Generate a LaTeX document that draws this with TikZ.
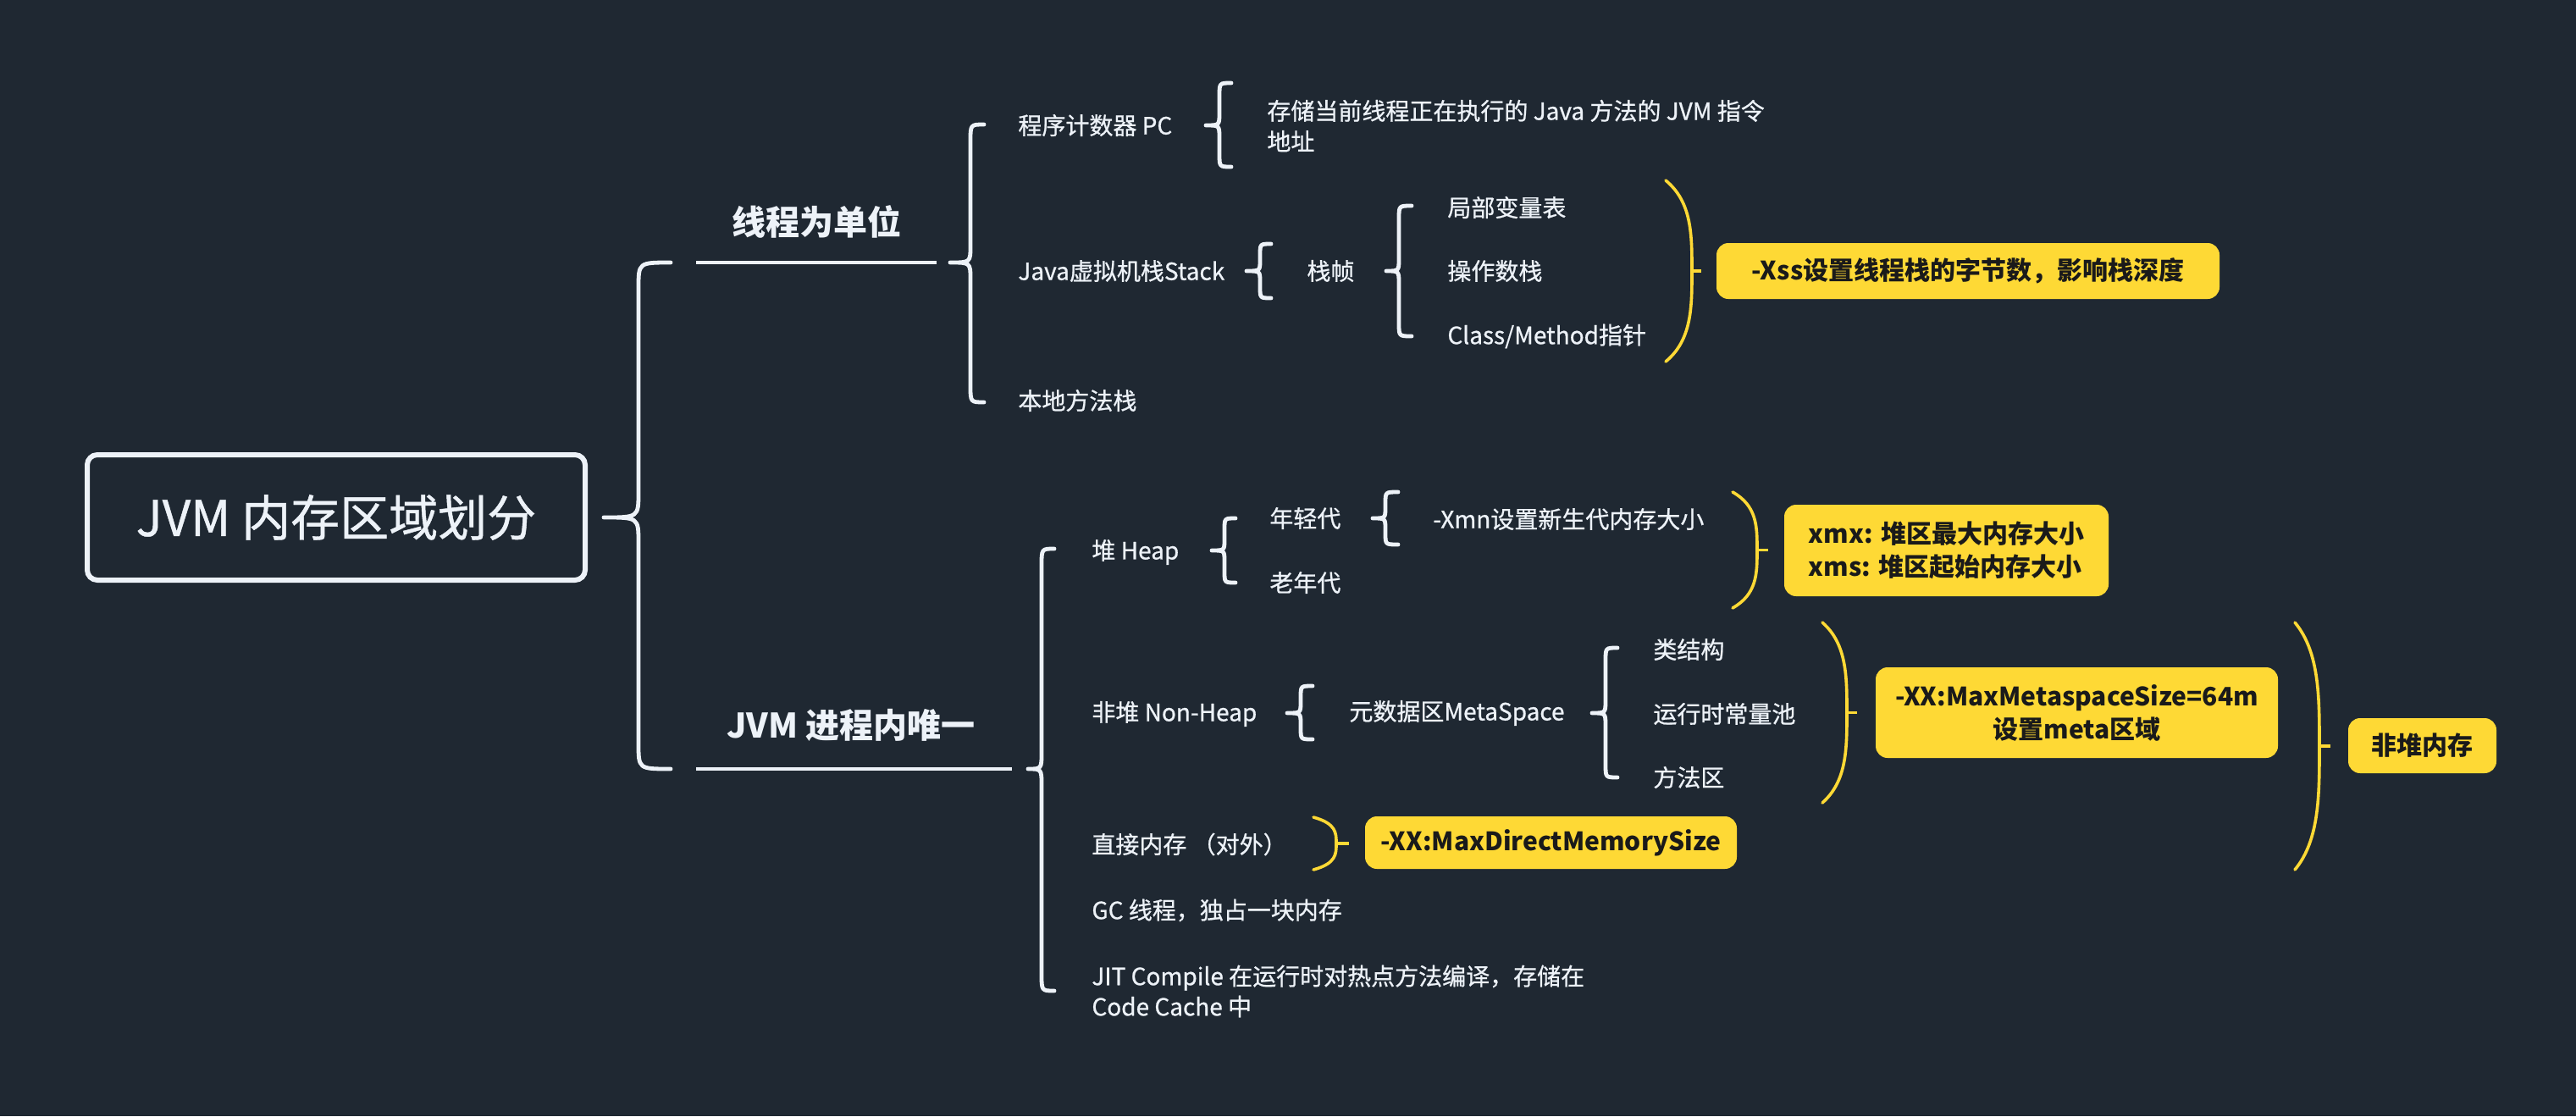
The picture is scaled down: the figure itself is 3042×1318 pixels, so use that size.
\documentclass[tikz,border=0pt]{standalone}
\usepackage{fontspec}
\setmainfont{Noto Sans CJK SC}
\newfontfamily\medfont{Noto Sans CJK SC}[UprightFeatures={FakeBold=0.8}]
\definecolor{bg}{HTML}{1F2832}
\definecolor{txt}{HTML}{EDF2F8}
\definecolor{yel}{HTML}{FED935}
\definecolor{ink}{HTML}{1A1A1A}
\newcommand\mybrace[8]{% name tipx tipy vx ex top bot r
  \coordinate (#1) at (#2,#3);
  \draw[brline] (#1) .. controls (#4,#3) and (#4,#3) .. (#4,{#3-#8}) -- (#4,{#6+#8}) .. controls (#4,#6) and (#4,#6) .. (#5,#6)
                (#1) .. controls (#4,#3) and (#4,#3) .. (#4,{#3+#8}) -- (#4,{#7-#8}) .. controls (#4,#7) and (#4,#7) .. (#5,#7);}
\newcommand\myparen[6]{% name x0 x1 top bot tipx
  \coordinate (#1) at (#6,{(#4+#5)/2});
  \draw[ylline] (#2,#4) .. controls (#3,{#4+0.12*(#5-#4)}) and (#3,{#4+0.3*(#5-#4)}) .. (#3,{(#4+#5)/2})
                .. controls (#3,{#5-0.3*(#5-#4)}) and (#3,{#5-0.12*(#5-#4)}) .. (#2,#5);
  \draw[ylline, line cap=butt] (#3,{(#4+#5)/2}) -- (#1);}
\begin{document}
\begin{tikzpicture}[x=0.5pt,y=-0.5pt,
  brline/.style={draw=txt, line width=2.4pt, line cap=round},
  ylline/.style={draw=yel, line width=1.8pt, line cap=round},
  uline/.style={draw=txt, line width=2.4pt},
  wt/.style={text=txt, font=\medfont\fontsize{14}{18}\selectfont, anchor=west, inner sep=0pt, align=left},
  lvl/.style={text=txt, font=\bfseries\fontsize{20}{24}\selectfont, inner sep=0pt},
  ybox/.style={fill=yel, rounded corners=7pt, text=ink, font=\bfseries\fontsize{15}{19.5}\selectfont, align=center, inner sep=0pt}]
\fill[bg] (0,0) rectangle (3042,1318);
\useasboundingbox (0,0) rectangle (3042,1318);

% root
\node[draw=txt, line width=3pt, rounded corners=6pt, minimum width=294pt, minimum height=74pt, text=txt,
      font=\medfont\fontsize{29}{34}\selectfont] (root) at (397,611) {JVM 内存区域划分};
\mybrace{b0}{713}{611}{754}{792}{310}{908}{30}

% level 1
\node[lvl] (l1a) at (964,262) {线程为单位};
\coordinate (l1as) at (822,310); \coordinate (l1ae) at (1106,310);
\draw[uline] (l1as) -- (l1ae);
\node[lvl] (l1b) at (1005,856) {JVM 进程内唯一};
\coordinate (l1bs) at (822,908); \coordinate (l1be) at (1195,908);
\draw[uline] (l1bs) -- (l1be);

% thread branch
\mybrace{b1}{1122}{310}{1146}{1162}{147}{475}{20}
\node[wt] (pc) at (1202,148) {程序计数器 PC};
\node[wt] (jvs) at (1202,320) {Java虚拟机栈Stack};
\node[wt] (nms) at (1202,473) {本地方法栈};
\mybrace{b2}{1424}{148}{1440}{1454}{98}{197}{15}
\node[wt] (pcd) at (1496,148.5) {存储当前线程正在执行的 Java 方法的 JVM 指令\\地址};
\mybrace{b3}{1472}{320}{1488}{1501}{288}{352}{13}
\node[wt] (frame) at (1543,320) {栈帧};
\mybrace{b4}{1637}{320}{1652}{1667}{243}{397}{15}
\node[wt] (lvt) at (1709,245) {局部变量表};
\node[wt] (ops) at (1709,320) {操作数栈};
\node[wt] (cmp) at (1709,397) {Class/Method指针};
\myparen{p1}{1967}{1998}{213}{427}{2009}
\node[ybox, minimum width=297pt, minimum height=33pt] (xss) at (2324,320) {-Xss设置线程栈的字节数，影响栈深度};

% process branch
\mybrace{b5}{1214}{908}{1230}{1245}{648}{1170}{20}
\node[wt] (heap) at (1289,652) {堆 Heap};
\node[wt] (nonheap) at (1289,843) {非堆 Non-Heap};
\node[wt] (direct) at (1289,997) {直接内存 （对外）};
\node[wt] (gc) at (1289,1075) {GC 线程，独占一块内存};
\node[wt] (jit) at (1289,1170.5) {JIT Compile 在运行时对热点方法编译，存储在\\Code Cache 中};

\mybrace{b6}{1431}{650}{1446}{1459}{612}{688}{13}
\node[wt] (young) at (1499,612) {年轻代};
\node[wt] (old) at (1499,688) {老年代};
\mybrace{b7}{1621}{612}{1636}{1651}{581}{643}{13}
\node[wt] (xmn) at (1692,613) {-Xmn设置新生代内存大小};
\myparen{p2}{2046}{2075}{581}{718}{2088}
\node[ybox, align=left, minimum width=191.5pt, minimum height=54pt] (xmx) at (2298.5,650) {xmx: 堆区最大内存大小\\xms: 堆区起始内存大小};

\mybrace{b8}{1520}{842}{1536}{1550}{810}{873}{13}
\node[wt] (meta) at (1593,842) {元数据区MetaSpace};
\mybrace{b9}{1880}{842}{1896}{1910}{765}{918}{15}
\node[wt] (cls) at (1952,767) {类结构};
\node[wt] (rcp) at (1952,843) {运行时常量池};
\node[wt] (mth) at (1952,918) {方法区};
\myparen{p3}{2152}{2181}{735}{948}{2193}
\node[ybox, minimum width=237.5pt, minimum height=53.5pt] (mms) at (2452.5,841.5) {-XX:MaxMetaspaceSize=64m\\设置meta区域};
\myparen{p4}{2710}{2739}{735}{1027}{2752}
\node[ybox, minimum width=87.5pt, minimum height=32.5pt] (nhm) at (2860.5,880.5) {非堆内存};

\myparen{p5}{1551}{1578}{965}{1027}{1593}
\node[ybox, minimum width=219.5pt, minimum height=31pt] (mdm) at (1831.5,995) {-XX:MaxDirectMemorySize};
\end{tikzpicture}
\end{document}
